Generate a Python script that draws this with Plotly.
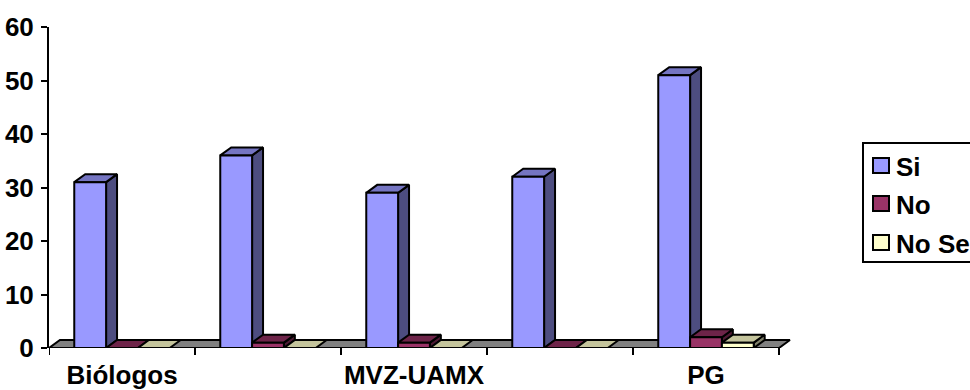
import plotly.graph_objects as go

# Survey answers per group
tick_labels = ["Biólogos", "", "MVZ-UAMX", "", "PG"]
series_names = ["Si", "No", "No Se"]
si = [31, 36, 29, 32, 51]
no = [0, 1, 1, 0, 2]
no_se = [0, 0, 0, 0, 1]
y_ticks = [0, 10, 20, 30, 40, 50, 60]

series_values = [si, no, no_se]
front_colors = ["#9999FF", "#993366", "#FFFFCC"]
top_colors = ["#7575C2", "#6E2449", "#C4C49C"]
side_colors = ["#4D4D80", "#4D1A33", "#80806A"]
floor_color = "#808080"

BAR_W = 0.218   # width of one column, in category units
DX = 0.075      # depth offset of the 3-D effect (x, category units)
DY = 1.5        # depth offset of the 3-D effect (y, value units)
FONT = "Liberation Sans, Arial, sans-serif"
EDGE = 2

# figure geometry (pixels)
W, H = 970, 390
L, R, T, B = 49, 170, 27, 42
plot_w = W - L - R
plot_h = H - T - B
n = len(tick_labels)
x_min = -0.5
x_max = n - 0.5 + 21 / 146.0


def xp(px):
    return (px - L) / plot_w


def yp(py):
    return (H - B - py) / plot_h


fig = go.Figure()


def face(px, py, color):
    fig.add_trace(go.Scatter(
        x=px + [px[0]], y=py + [py[0]], mode="lines", fill="toself",
        fillcolor=color, line=dict(color="black", width=EDGE),
        hoverinfo="skip", showlegend=False, xaxis="x", yaxis="y"))


# floor of the 3-D plot
face([x_min, n - 0.5, n - 0.5 + DX, x_min + DX], [0, 0, DY, DY], floor_color)

# top and side faces, left to right so nearer faces cover farther ones
for i in range(n):
    for s, vals in enumerate(series_values):
        v = vals[i]
        x0 = i + (s - 1) * BAR_W - BAR_W / 2
        x1 = x0 + BAR_W
        if v > 0:
            face([x1, x1, x1 + DX, x1 + DX], [0, v, v + DY, DY], side_colors[s])
        face([x0, x1, x1 + DX, x0 + DX], [v, v, v + DY, v + DY], top_colors[s])

# front faces of the columns on an overlaid subplot, above all other faces
for s, (name, vals) in enumerate(zip(series_names, series_values)):
    fig.add_trace(go.Bar(
        name=name,
        x=[i + (s - 1) * BAR_W for i in range(n)],
        y=[v if v > 0 else None for v in vals],
        width=BAR_W,
        marker=dict(color=front_colors[s], line=dict(color="black", width=EDGE)),
        showlegend=False, xaxis="x2", yaxis="y2"))

axis_font = dict(family=FONT, size=26, color="black", weight="bold")

fig.update_layout(
    width=W, height=H,
    margin=dict(l=L, r=R, t=T, b=B, autoexpand=False),
    paper_bgcolor="white", plot_bgcolor="rgba(0,0,0,0)",
    barmode="overlay",
    xaxis=dict(range=[x_min, x_max], tickvals=list(range(n)), ticktext=tick_labels,
               ticks="", showline=False, showgrid=False, zeroline=False,
               tickfont=axis_font, ticklabelstandoff=9),
    yaxis=dict(range=[0, 60], tickvals=y_ticks, ticks="outside", ticklen=6,
               tickwidth=2, tickcolor="black", showline=True, linewidth=2,
               linecolor="black", showgrid=False, zeroline=False,
               tickfont=axis_font, ticklabelstandoff=2),
    xaxis2=dict(range=[x_min, x_max], overlaying="x", visible=False),
    yaxis2=dict(range=[0, 60], overlaying="y", visible=False),
    showlegend=False,
)

# category axis line along the front edge of the floor
fig.add_shape(type="line", xref="x", yref="y", x0=x_min, x1=n - 0.5, y0=0, y1=0,
              line=dict(color="black", width=2), layer="above")
# tick marks between categories
for k in range(n + 1):
    fig.add_shape(type="line", xref="x", yref="paper", x0=k - 0.5, x1=k - 0.5,
                  y0=0, y1=-7 / plot_h, line=dict(color="black", width=2),
                  layer="above")

# legend box
fig.add_shape(type="rect", xref="paper", yref="paper",
              x0=xp(863), x1=xp(1010), y0=yp(262), y1=yp(143),
              line=dict(color="black", width=2), fillcolor="white", layer="above")
legend_rows = [165.5, 203.5, 242.5]
for s, name in enumerate(series_names):
    cy = legend_rows[s]
    fig.add_shape(type="rect", xref="paper", yref="paper",
                  x0=xp(873), x1=xp(889), y0=yp(cy + 7.5), y1=yp(cy - 7.5),
                  line=dict(color="black", width=2), fillcolor=front_colors[s],
                  layer="above")
    fig.add_annotation(xref="paper", yref="paper", x=xp(894), y=yp(cy + 1),
                       xanchor="left", yanchor="middle", text=name, showarrow=False,
                       font=axis_font)

fig.write_html("out.html")
